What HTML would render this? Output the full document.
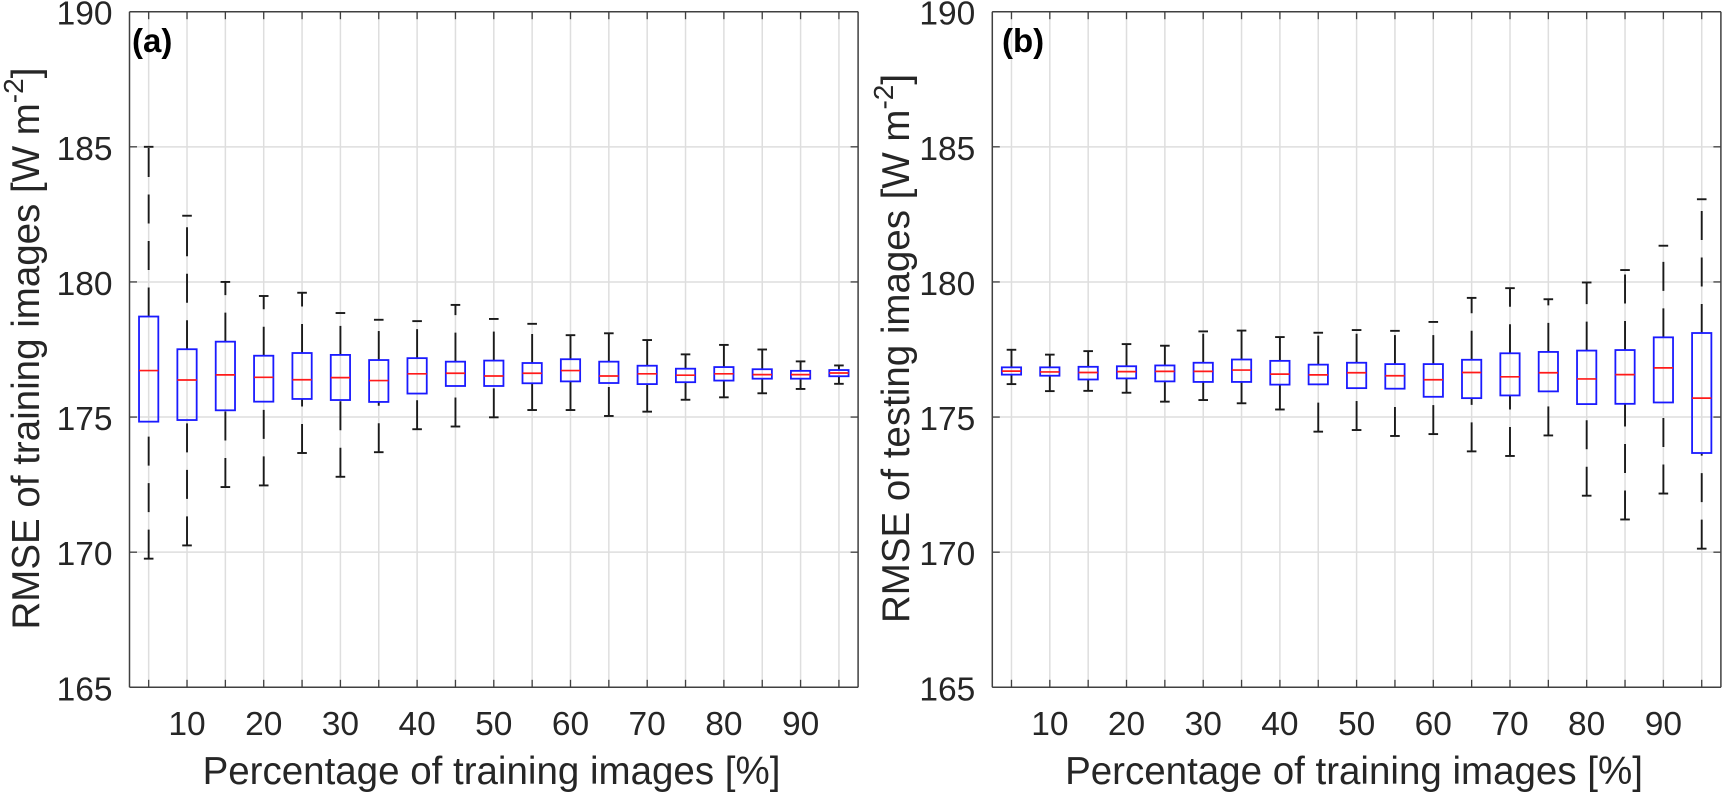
<!DOCTYPE html>
<html lang="en">
<head>
<meta charset="utf-8">
<title>RMSE boxplots</title>
<style>
html,body{margin:0;padding:0;background:#fff;width:1722px;height:792px;overflow:hidden}
svg{display:block}
text{font-family:"Liberation Sans",Arial,sans-serif;fill:#262626}
</style>
</head>
<body>
<svg id="figure" width="1722" height="792" viewBox="0 0 1722 792" xmlns="http://www.w3.org/2000/svg">
  <rect x="0" y="0" width="1722" height="792" fill="#fff"/>
  <g id="panel-a"></g>
  <g id="panel-b"></g>
  <text x="132" y="52" font-size="33" font-weight="bold" style="fill:#000">(a)</text>
  <text x="1002" y="52" font-size="33" font-weight="bold" style="fill:#000">(b)</text>
  <text transform="translate(39,629.5) rotate(-90)" font-size="38.5">RMSE of training images [W m<tspan font-size="28" dy="-16">-2</tspan><tspan dy="16">]</tspan></text>
  <text transform="translate(909,623) rotate(-90)" font-size="38.5">RMSE of testing images [W m<tspan font-size="28" dy="-16">-2</tspan><tspan dy="16">]</tspan></text>
  <text x="491.5" y="784" font-size="38.5" text-anchor="middle">Percentage of training images [%]</text>
  <text x="1354" y="784" font-size="38.5" text-anchor="middle">Percentage of training images [%]</text>
</svg>
<script>
const categories = [5,10,15,20,25,30,35,40,45,50,55,60,65,70,75,80,85,90,95];
const xTickLabels = [10,20,30,40,50,60,70,80,90];
const yTickLabels = [165,170,175,180,185,190];

const aUpper  = [185.0,182.45,180.0,179.48,179.6,178.85,178.6,178.55,179.15,178.63,178.45,178.03,178.1,177.85,177.32,177.67,177.5,177.06,176.91];
const aQ3     = [178.72,177.51,177.79,177.27,177.37,177.3,177.11,177.18,177.05,177.09,177.0,177.14,177.05,176.9,176.79,176.85,176.77,176.71,176.74];
const aMedian = [176.72,176.37,176.56,176.47,176.38,176.46,176.35,176.6,176.62,176.52,176.62,176.72,176.52,176.6,176.55,176.6,176.57,176.57,176.63];
const aQ1     = [174.83,174.89,175.25,175.57,175.67,175.63,175.56,175.87,176.15,176.15,176.25,176.32,176.26,176.22,176.29,176.35,176.42,176.42,176.51];
const aLower  = [169.76,170.25,172.41,172.47,173.67,172.79,173.7,174.55,174.65,174.99,175.26,175.26,175.04,175.2,175.64,175.73,175.88,176.04,176.23];

const bUpper  = [177.49,177.31,177.44,177.7,177.64,178.17,178.2,177.96,178.12,178.22,178.19,178.52,179.41,179.77,179.36,179.98,180.44,181.34,183.06];
const bQ3     = [176.84,176.84,176.86,176.88,176.91,177.01,177.13,177.08,176.94,177.01,176.96,176.96,177.12,177.36,177.41,177.46,177.48,177.95,178.11];
const bMedian = [176.7,176.67,176.65,176.68,176.69,176.69,176.74,176.59,176.56,176.64,176.53,176.38,176.65,176.49,176.64,176.41,176.57,176.82,175.7];
const bQ1     = [176.57,176.53,176.39,176.43,176.32,176.3,176.3,176.2,176.21,176.07,176.05,175.75,175.7,175.8,175.95,175.48,175.49,175.54,173.67];
const bLower  = [176.22,175.96,175.97,175.9,175.57,175.63,175.51,175.28,174.46,174.52,174.3,174.37,173.73,173.56,174.32,172.09,171.21,172.17,170.13];

const SVG_NS = 'http://www.w3.org/2000/svg';
const PLOT_TOP = 11.7, PLOT_BOTTOM = 687.3, PLOT_WIDTH = 728.6;
const X_MIN = 2.5, X_MAX = 97.5, Y_MIN = 165, Y_MAX = 190;
const BOX_HALF = 9.65, CAP_HALF = 4.8, TICK_LEN = 7.5;

function yScale(v) {
  return PLOT_BOTTOM - (v - Y_MIN) / (Y_MAX - Y_MIN) * (PLOT_BOTTOM - PLOT_TOP);
}
function xScale(v, left) {
  return left + (v - X_MIN) / (X_MAX - X_MIN) * PLOT_WIDTH;
}
function addLine(parent, name, x1, y1, x2, y2, color, width, dash) {
  const el = document.createElementNS(SVG_NS, 'line');
  
  
  el.setAttribute('x1', x1);
  el.setAttribute('y1', y1);
  el.setAttribute('x2', x2);
  el.setAttribute('y2', y2);
  el.setAttribute('stroke', color);
  el.setAttribute('stroke-width', width);
  if (dash) el.setAttribute('stroke-dasharray', dash);
  parent.appendChild(el);
  return el;
}
function addText(parent, name, x, y, anchor, str) {
  const el = document.createElementNS(SVG_NS, 'text');
  
  
  el.setAttribute('x', x);
  el.setAttribute('y', y);
  el.setAttribute('text-anchor', anchor);
  el.setAttribute('font-size', '33.5');
  el.textContent = str;
  parent.appendChild(el);
  return el;
}
function drawPanel(groupId, prefix, left, upper, q3, median, q1, lower) {
  const g = document.getElementById(groupId);
  const right = left + PLOT_WIDTH;
  const GRID = '#dedede', AXIS = '#404040';

  categories.forEach(function (c) {
    addLine(g, prefix + '-x-grid-' + c, xScale(c, left), PLOT_TOP, xScale(c, left), PLOT_BOTTOM, GRID, 1.5);
  });
  yTickLabels.forEach(function (t) {
    addLine(g, prefix + '-y-grid-' + t, left, yScale(t), right, yScale(t), GRID, 1.5);
  });

  categories.forEach(function (c, i) {
    const x = xScale(c, left);
    addLine(g, prefix + '-upper-whisker-' + c, x, yScale(q3[i]), x, yScale(upper[i]), '#1a1a1a', 1.9, '29 17.5');
    addLine(g, prefix + '-lower-whisker-' + c, x, yScale(lower[i]), x, yScale(q1[i]), '#1a1a1a', 1.9, '29 17.5');
    addLine(g, prefix + '-upper-cap-' + c, x - CAP_HALF, yScale(upper[i]), x + CAP_HALF, yScale(upper[i]), '#1a1a1a', 1.9);
    addLine(g, prefix + '-lower-cap-' + c, x - CAP_HALF, yScale(lower[i]), x + CAP_HALF, yScale(lower[i]), '#1a1a1a', 1.9);
    const box = document.createElementNS(SVG_NS, 'rect');
    
    
    box.setAttribute('x', x - BOX_HALF);
    box.setAttribute('y', yScale(q3[i]));
    box.setAttribute('width', BOX_HALF * 2);
    box.setAttribute('height', yScale(q1[i]) - yScale(q3[i]));
    box.setAttribute('fill', 'none');
    box.setAttribute('stroke', '#1a1aff');
    box.setAttribute('stroke-width', '1.8');
    g.appendChild(box);
    addLine(g, prefix + '-median-' + c, x - BOX_HALF, yScale(median[i]), x + BOX_HALF, yScale(median[i]), '#ff1a1a', 1.7);
  });

  addLine(g, prefix + '-axis-top', left, PLOT_TOP, right, PLOT_TOP, AXIS, 1.5);
  addLine(g, prefix + '-axis-bottom', left, PLOT_BOTTOM, right, PLOT_BOTTOM, AXIS, 1.5);
  addLine(g, prefix + '-axis-left', left, PLOT_TOP, left, PLOT_BOTTOM, AXIS, 1.5);
  addLine(g, prefix + '-axis-right', right, PLOT_TOP, right, PLOT_BOTTOM, AXIS, 1.5);

  categories.forEach(function (c) {
    const x = xScale(c, left);
    addLine(g, prefix + '-x-tick-bottom-' + c, x, PLOT_BOTTOM, x, PLOT_BOTTOM - TICK_LEN, AXIS, 1.3);
    addLine(g, prefix + '-x-tick-top-' + c, x, PLOT_TOP, x, PLOT_TOP + TICK_LEN, AXIS, 1.3);
  });
  yTickLabels.forEach(function (t) {
    const y = yScale(t);
    addLine(g, prefix + '-y-tick-left-' + t, left, y, left + TICK_LEN, y, AXIS, 1.3);
    addLine(g, prefix + '-y-tick-right-' + t, right, y, right - TICK_LEN, y, AXIS, 1.3);
    addText(g, prefix + '-y-tick-label-' + t, left - 17, y + 13, 'end', String(t));
  });
  xTickLabels.forEach(function (t) {
    addText(g, prefix + '-x-tick-label-' + t, xScale(t, left), 735, 'middle', String(t));
  });
}
drawPanel('panel-a', 'panel-a', 129.5, aUpper, aQ3, aMedian, aQ1, aLower);
drawPanel('panel-b', 'panel-b', 992.3, bUpper, bQ3, bMedian, bQ1, bLower);
</script>
</body>
</html>
